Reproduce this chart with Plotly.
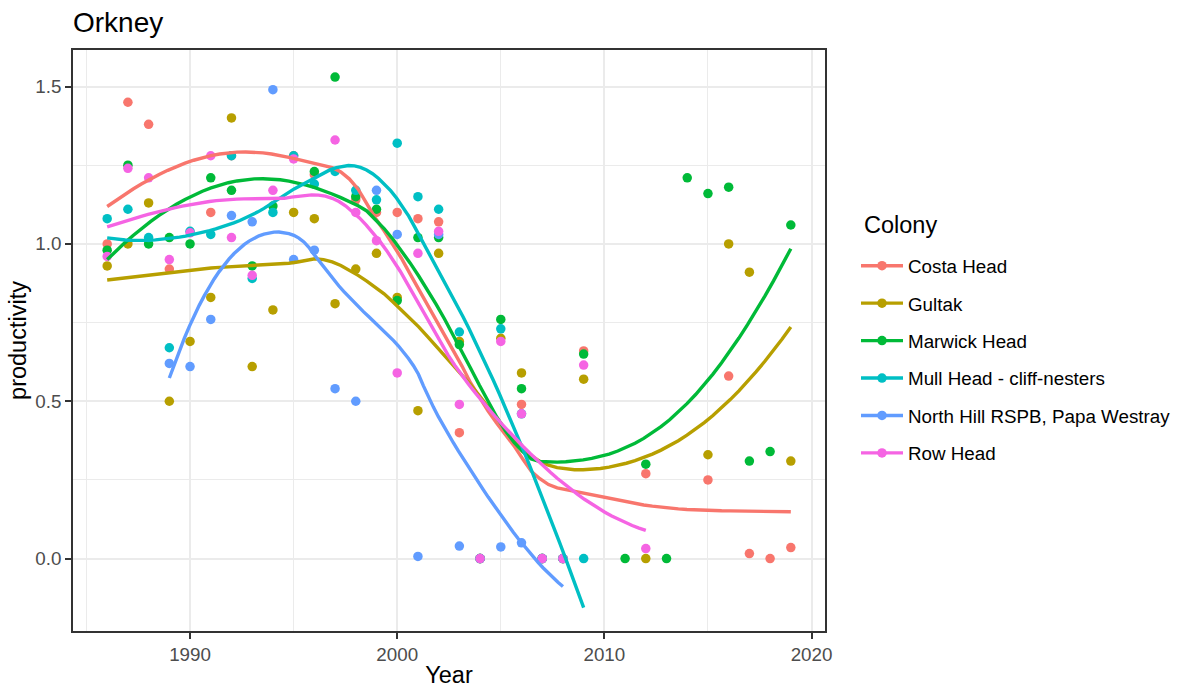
import numpy as np
import plotly.graph_objects as go

# Breeding productivity by colony, Orkney
colonies = ["Costa Head", "Gultak", "Marwick Head", "Mull Head - cliff-nesters",
            "North Hill RSPB, Papa Westray", "Row Head"]
colours = ["#F8766D", "#B79F00", "#00BA38", "#00BFC4", "#619CFF", "#F564E3"]

costa_year = [1986, 1987, 1988, 1989, 1991, 1992, 1995, 1996, 1998, 1999, 2000, 2001, 2002,
              2003, 2004, 2006, 2007, 2008, 2009, 2012, 2015, 2016, 2017, 2018, 2019]
costa_prod = [1.00, 1.45, 1.38, 0.92, 1.10, 1.28, 1.28, 1.22, 1.14, 1.10, 1.10, 1.08, 1.07,
              0.40, 0.0, 0.49, 0.0, 0.0, 0.66, 0.27, 0.25, 0.58, 0.016, 0.0, 0.035]

gultak_year = [1986, 1987, 1988, 1989, 1990, 1991, 1992, 1993, 1994, 1995, 1996, 1997, 1998,
               1999, 2000, 2001, 2002, 2003, 2004, 2005, 2006, 2007, 2008, 2009, 2012, 2015,
               2016, 2017, 2019]
gultak_prod = [0.93, 1.00, 1.13, 0.50, 0.69, 0.83, 1.40, 0.61, 0.79, 1.10, 1.08, 0.81, 0.92,
               0.97, 0.83, 0.47, 0.97, 0.69, 0.0, 0.70, 0.59, 0.0, 0.0, 0.57, 0.0, 0.33,
               1.00, 0.91, 0.31]

marwick_year = [1986, 1987, 1988, 1989, 1990, 1991, 1992, 1993, 1994, 1996, 1997, 1998, 1999,
                2000, 2001, 2002, 2003, 2004, 2005, 2006, 2007, 2008, 2009, 2011, 2012, 2013,
                2014, 2015, 2016, 2017, 2018, 2019]
marwick_prod = [0.98, 1.25, 1.00, 1.02, 1.00, 1.21, 1.17, 0.93, 1.12, 1.23, 1.53, 1.15, 1.11,
                0.82, 1.02, 1.02, 0.68, 0.0, 0.76, 0.54, 0.0, 0.0, 0.65, 0.0, 0.30, 0.0,
                1.21, 1.16, 1.18, 0.31, 0.34, 1.06]

mull_year = [1986, 1987, 1988, 1989, 1990, 1991, 1992, 1993, 1994, 1995, 1996, 1997, 1998,
             1999, 2000, 2001, 2002, 2003, 2004, 2005, 2006, 2007, 2008, 2009]
mull_prod = [1.08, 1.11, 1.02, 0.67, 1.04, 1.03, 1.28, 0.89, 1.10, 1.28, 1.19, 1.23, 1.17,
             1.14, 1.32, 1.15, 1.11, 0.72, 0.0, 0.73, 0.46, 0.0, 0.0, 0.0]

northhill_year = [1989, 1990, 1991, 1992, 1993, 1994, 1995, 1996, 1997, 1998, 1999, 2000,
                  2001, 2002, 2003, 2004, 2005, 2006, 2007, 2008]
northhill_prod = [0.62, 0.61, 0.76, 1.09, 1.07, 1.49, 0.95, 0.98, 0.54, 0.50, 1.17, 1.03,
                  0.007, 1.03, 0.04, 0.0, 0.037, 0.05, 0.0, 0.0]

row_year = [1986, 1987, 1988, 1989, 1990, 1991, 1992, 1993, 1994, 1995, 1997, 1998, 1999,
            2000, 2001, 2002, 2003, 2004, 2005, 2006, 2007, 2008, 2009, 2012]
row_prod = [0.96, 1.24, 1.21, 0.95, 1.035, 1.28, 1.02, 0.90, 1.17, 1.27, 1.33, 1.10, 1.01,
            0.59, 0.97, 1.04, 0.49, 0.0, 0.69, 0.46, 0.0, 0.0, 0.615, 0.032]

series = [(costa_year, costa_prod), (gultak_year, gultak_prod), (marwick_year, marwick_prod),
          (mull_year, mull_prod), (northhill_year, northhill_prod), (row_year, row_prod)]

x_ticks = [1990, 2000, 2010, 2020]
y_ticks = [0.0, 0.5, 1.0, 1.5]
y_tick_text = ["0.0", "0.5", "1.0", "1.5"]


def loess(x, y, xout, span=0.75):
    """Local quadratic regression with tricube weights (loess, degree 2)."""
    x = np.asarray(x, float)
    y = np.asarray(y, float)
    n = len(x)
    q = int(np.floor(n * span))
    fit = []
    for x0 in xout:
        d = np.abs(x - x0)
        ds = np.sort(d)
        h = ds[q - 1]
        if q < n:
            h = 0.5 * (ds[q - 1] + ds[q]) if ds[q] > ds[q - 1] else h * 1.0001
        w = np.clip(1 - (d / h) ** 3, 0, None) ** 3
        X = np.column_stack([np.ones(n), x - x0, (x - x0) ** 2])
        sw = np.sqrt(w)
        beta = np.linalg.lstsq(X * sw[:, None], y * sw, rcond=None)[0]
        fit.append(beta[0])
    return np.array(fit)


FONT = "Liberation Sans, Arial, sans-serif"
W, H = 1182, 688
M_L, M_R, M_T, M_B = 73, 357, 50, 57

fig = go.Figure()

# points (drawn in colony order)
for name, col, (xs, ys) in zip(colonies, colours, series):
    fig.add_trace(go.Scatter(x=xs, y=ys, mode="markers", showlegend=False,
                             marker=dict(color=col, size=9.5, line=dict(width=0)),
                             hoverinfo="x+y", name=name))

# smoothed trends
for name, col, (xs, ys) in zip(colonies, colours, series):
    grid = np.linspace(min(xs), max(xs), 80)
    fig.add_trace(go.Scatter(x=grid, y=loess(xs, ys, grid), mode="lines", showlegend=False,
                             line=dict(color=col, width=3.4), name=name))

# legend keys
for name, col in zip(colonies, colours):
    fig.add_trace(go.Scatter(x=[None], y=[None], mode="lines+markers", name=name,
                             legendgroup=name,
                             line=dict(color=col, width=3.4),
                             marker=dict(color=col, size=9.5)))

axis_common = dict(showline=True, mirror=True, linecolor="#333333", linewidth=1.7,
                   ticks="outside", ticklen=6, tickwidth=1.7, tickcolor="#333333",
                   gridcolor="#EBEBEB", gridwidth=1.7, zeroline=False, automargin=False,
                   tickfont=dict(family=FONT, size=18.8, color="#4D4D4D"))

plot_w = W - M_L - M_R
plot_h = H - M_T - M_B

fig.update_layout(
    width=W, height=H,
    paper_bgcolor="white", plot_bgcolor="white",
    margin=dict(l=M_L, r=M_R, t=M_T, b=M_B),
    title=dict(text="Orkney", x=73 / W, xanchor="left", xref="container",
               y=1 - 22 / H, yanchor="middle", yref="container",
               font=dict(family=FONT, size=28, color="black")),
    xaxis=dict(range=[1984.35, 2020.65], tickvals=x_ticks,
               title=dict(text="Year", standoff=11,
                          font=dict(family=FONT, size=23.5, color="black")),
               minor=dict(dtick=5, tick0=1985, showgrid=True, gridcolor="#EBEBEB",
                          gridwidth=0.85, ticks=""),
               **axis_common),
    yaxis=dict(range=[-0.23, 1.616], tickvals=y_ticks, ticktext=y_tick_text,
               title=dict(text="productivity", standoff=2,
                          font=dict(family=FONT, size=23.5, color="black")),
               minor=dict(dtick=0.25, tick0=0.25, showgrid=True, gridcolor="#EBEBEB",
                          gridwidth=0.85, ticks=""),
               **axis_common),
    legend=dict(x=856 / W, xref="container", xanchor="left",
                y=1 - 247 / H, yref="container", yanchor="top",
                font=dict(family=FONT, size=18.8, color="black"),
                tracegroupgap=10, itemwidth=42, bgcolor="rgba(0,0,0,0)"),
    annotations=[dict(text="Colony", x=(862 - M_L) / plot_w, xref="paper",
                      y=(H - M_B - 225) / plot_h, yref="paper",
                      xanchor="left", yanchor="middle", showarrow=False,
                      font=dict(family=FONT, size=23.5, color="black"))],
    showlegend=True,
)

fig.write_html("out.html")
